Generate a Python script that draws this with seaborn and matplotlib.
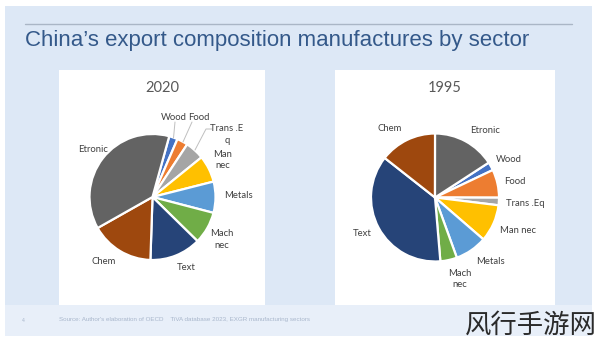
import matplotlib
matplotlib.use("Agg")
import matplotlib.pyplot as plt
from matplotlib.patches import Rectangle
from matplotlib.lines import Line2D
import seaborn as sns

sns.set_theme(style="white")
plt.rcParams['font.family'] = ['Lato', 'DejaVu Sans']

# ---------------- data ----------------
sectors = ["Wood", "Food", "Trans .Eq", "Man nec", "Metals", "Mach nec", "Text", "Chem", "Etronic"]
share_2020 = [2.2, 2.8, 4.9, 6.9, 8.0, 8.3, 13.2, 16.3, 37.5]
share_1995 = [2.1, 7.1, 1.9, 9.4, 8.1, 4.2, 36.9, 14.4, 15.8]
labels_2020 = ["Wood", "Food", "Trans .E\nq", "Man\nnec", "Metals", "Mach\nnec", "Text", "Chem", "Etronic"]
labels_1995 = ["Wood", "Food", "Trans .Eq", "Man nec", "Metals", "Mach\nnec", "Text", "Chem", "Etronic"]
title = "China\u2019s export composition manufactures by sector"
source = "Source: Author's elaboration of OECD    TiVA database 2023, EXGR manufacturing sectors"

colors = sns.color_palette(["#4472C4", "#ED7D31", "#A5A5A5", "#FFC000", "#5B9BD5",
                            "#70AD47", "#264478", "#9E480E", "#636363"])

# ---------------- layout ----------------
W, H = 600, 342
fig = plt.figure(figsize=(6, 3.42), dpi=100)
fig.patch.set_facecolor("white")

def rect(x0, y0, x1, y1, color, z=-10):
    fig.add_artist(Rectangle((x0 / W, 1 - y1 / H), (x1 - x0) / W, (y1 - y0) / H,
                             transform=fig.transFigure, facecolor=color,
                             edgecolor="none", zorder=z))

rect(5, 6, 592, 336, "#dde8f6", -10)
rect(5, 305, 592, 336, "#e8eff9", -9)
rect(59, 70, 265, 305, "white", -8)
rect(335, 70, 555, 305, "white", -8)
fig.add_artist(Line2D([25 / W, 572 / W], [1 - 24 / H, 1 - 24 / H], transform=fig.transFigure,
                      color="#aab6c6", lw=1.0, zorder=-5))

fig.text(25 / W, 1 - 46 / H, title, fontsize=16.0, color="#34598A",
         family=["Liberation Sans", "DejaVu Sans"], va="baseline", ha="left")
fig.text(59 / W, 1 - 319 / H, source, fontsize=4.5, color="#a9b7cc",
         family=["Liberation Sans", "DejaVu Sans"], va="center", ha="left")
fig.text(23 / W, 1 - 320 / H, "4", fontsize=3.5, color="#a9b7cc", va="center", ha="center")
fig.text(597 / W, 1 - 325 / H, "风行手游网", fontsize=19, color="#2a2a2a",
         family=["Noto Sans CJK SC", "DejaVu Sans"], weight="light", va="center", ha="right")

K = 1.8

def pie_axes(cx, cy, R):
    s = 2 * R * K
    ax = fig.add_axes([(cx - R * K) / W, (H - cy - R * K) / H, s / W, s / H])
    return ax

def finish(ax):
    ax.set_xlim(-K, K)
    ax.set_ylim(-K, K)
    ax.axis("off")

def place(cx, cy, R, px, py):
    return (px - cx) / R, (cy - py) / R

lab_kw = dict(fontsize=6.8, color="#404040", ha="center", va="center", linespacing=1.35)

# 2020
cx, cy, R = 152.5, 197, 63
ax = pie_axes(cx, cy, R)
ax.pie(share_2020, colors=colors, startangle=90 - 15.4, counterclock=False, radius=1,
       wedgeprops=dict(edgecolor="white", linewidth=1.6))
finish(ax)
pos_2020 = [(174, 117), (199, 118), (227, 134.5), (223, 160), (238, 196),
            (222, 239.5), (186, 267), (104, 261), (93, 149)]
for lab, (px, py) in zip(labels_2020, pos_2020):
    ax.text(*place(cx, cy, R, px, py), lab, **lab_kw)
leaders = [[(175, 122), (173.5, 138)], [(192, 122), (183, 142)],
           [(212, 129), (206, 129), (195, 150)]]
for pts in leaders:
    xy = [place(cx, cy, R, px, py) for px, py in pts]
    ax.plot([p[0] for p in xy], [p[1] for p in xy], color="#bfbfbf", lw=0.7)
fig.text(162.5 / W, 1 - 88 / H, "2020", fontsize=10.5, color="#595959", ha="center", va="center")

# 1995
cx, cy, R = 435, 197.5, 64
ax = pie_axes(cx, cy, R)
ax.pie(share_1995, colors=colors, startangle=90 - 57, counterclock=False, radius=1,
       wedgeprops=dict(edgecolor="white", linewidth=1.6))
finish(ax)
pos_1995 = [(509, 160), (515, 182), (525.5, 203), (517.5, 230.5), (490, 261.5),
            (460, 279), (362, 234), (390, 128.5), (485, 130.5)]
for lab, (px, py) in zip(labels_1995, pos_1995):
    ax.text(*place(cx, cy, R, px, py), lab, **lab_kw)
fig.text(445 / W, 1 - 88 / H, "1995", fontsize=10.5, color="#595959", ha="center", va="center")

fig.savefig("out.png", dpi=100)
